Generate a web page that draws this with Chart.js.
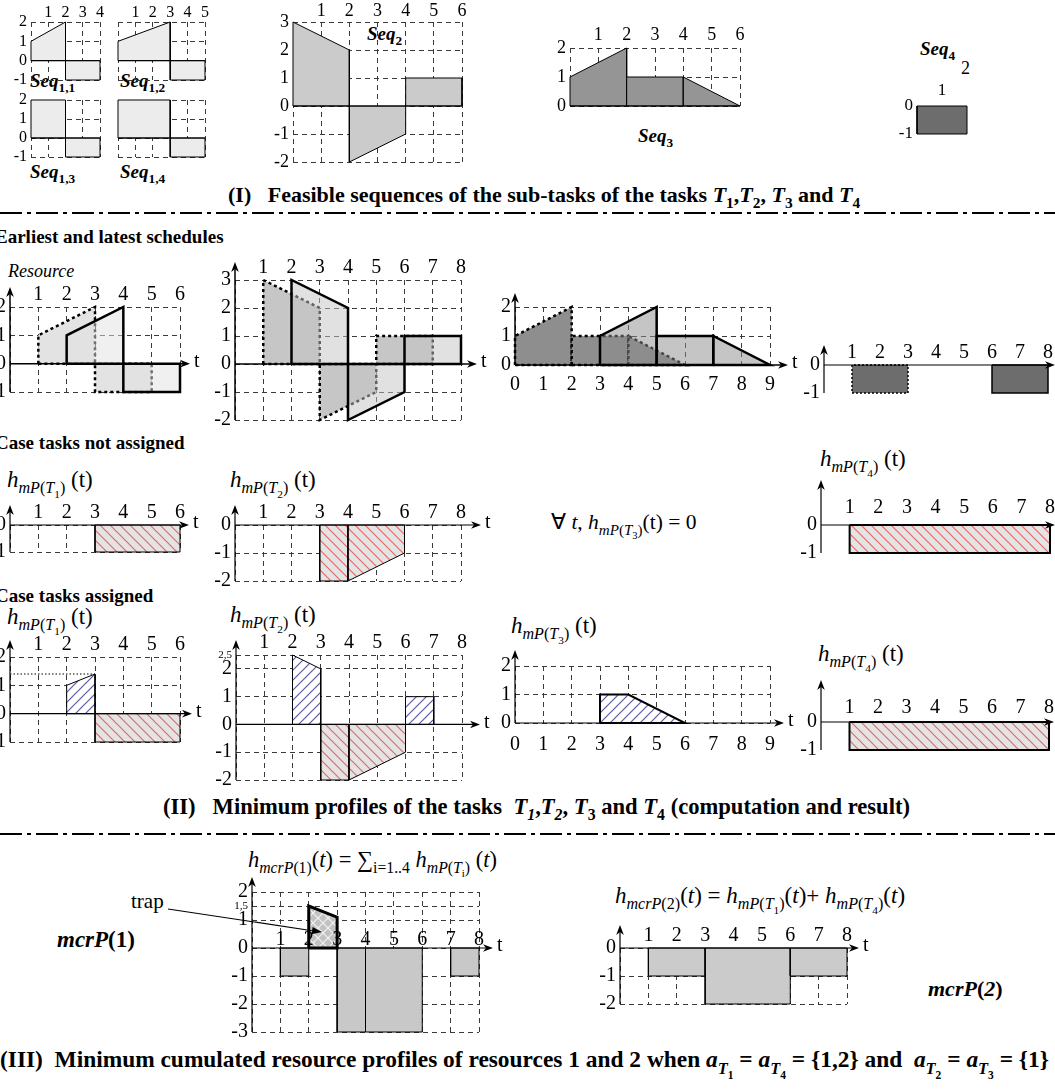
<!DOCTYPE html>
<html lang="en">
<head>
<meta charset="UTF-8">
<title>Minimum resource profiles</title>
<script src="https://cdn.jsdelivr.net/npm/chart.js"></script>
<style>
  body { margin:0; width:1055px; height:1089px; position:relative; overflow:hidden; background:#fff;
         font-family:'Liberation Serif','Times New Roman',serif; color:#000; }
  .txt { position:absolute; white-space:nowrap; line-height:1; }
  .ttl { font-weight:bold; font-size:22px; }
  .sec { font-weight:bold; font-size:19px; }
  .hl { font-size:23px; }
  .seq { font-weight:bold; font-size:19px; }
  sub { font-size:0.7em; vertical-align:-0.4em; line-height:0; }
  svg { position:absolute; left:0; top:0; }
</style>
</head>
<body>

<!-- section titles and labels -->
<div class="txt seq" style="left:30px;top:71px"><i>Seq</i><sub>1,1</sub></div>
<div class="txt seq" style="left:120px;top:71px"><i>Seq</i><sub>1,2</sub></div>
<div class="txt seq" style="left:30px;top:162px"><i>Seq</i><sub>1,3</sub></div>
<div class="txt seq" style="left:120px;top:162px"><i>Seq</i><sub>1,4</sub></div>
<div class="txt seq" style="left:367px;top:24px"><i>Seq</i><sub>2</sub></div>
<div class="txt seq" style="left:638px;top:126px"><i>Seq</i><sub>3</sub></div>
<div class="txt seq" style="left:920px;top:39px"><i>Seq</i><sub>4</sub></div>
<div class="txt" style="left:961px;top:59px;font-size:18px">2</div>
<div class="txt ttl" style="left:228px;top:184px">(I)&nbsp;&nbsp; Feasible sequences of the sub-tasks of the tasks <i>T</i><sub>1</sub>,<i>T</i><sub>2</sub>, <i>T</i><sub>3</sub> and <i>T</i><sub>4</sub></div>

<div class="txt sec" style="left:-5px;top:227px">Earliest and latest schedules</div>
<div class="txt" style="left:8px;top:262px;font-size:18px"><i>Resource</i></div>
<div class="txt sec" style="left:-5px;top:433px">Case tasks not assigned</div>
<div class="txt hl" style="left:7px;top:468px"><i>h</i><sub><i>mP</i>(<i>T</i><sub>1</sub>)</sub> (t)</div>
<div class="txt hl" style="left:230px;top:468px"><i>h</i><sub><i>mP</i>(<i>T</i><sub>2</sub>)</sub> (t)</div>
<div class="txt" style="left:551px;top:512px;font-size:21.5px">&forall; <i>t</i>, <i>h</i><sub><i>mP</i>(<i>T</i><sub>3</sub>)</sub>(t) = 0</div>
<div class="txt hl" style="left:820px;top:447px"><i>h</i><sub><i>mP</i>(<i>T</i><sub>4</sub>)</sub> (t)</div>
<div class="txt sec" style="left:-5px;top:586px">Case tasks assigned</div>
<div class="txt hl" style="left:7px;top:605px"><i>h</i><sub><i>mP</i>(<i>T</i><sub>1</sub>)</sub> (t)</div>
<div class="txt hl" style="left:230px;top:603px"><i>h</i><sub><i>mP</i>(<i>T</i><sub>2</sub>)</sub> (t)</div>
<div class="txt hl" style="left:511px;top:614px"><i>h</i><sub><i>mP</i>(<i>T</i><sub>3</sub>)</sub> (t)</div>
<div class="txt hl" style="left:818px;top:642px"><i>h</i><sub><i>mP</i>(<i>T</i><sub>4</sub>)</sub> (t)</div>
<div class="txt ttl" style="left:163px;top:796px;font-size:22.6px">(II)&nbsp;&nbsp; Minimum profiles of the tasks&nbsp; <i>T<sub>1</sub></i>,<i>T<sub>2</sub></i>, <i>T</i><sub>3</sub> and <i>T</i><sub>4</sub> (computation and result)</div>

<div class="txt" style="left:248px;top:849px;font-size:22.5px"><i>h</i><sub><i>mcrP</i>(1)</sub>(<i>t</i>) = &sum;<sub>i=1..4</sub> <i>h</i><sub><i>mP</i>(<i>T</i><sub>i</sub>)</sub> (<i>t</i>)</div>
<div class="txt" style="left:615px;top:884px;font-size:23px"><i>h</i><sub><i>mcrP</i>(2)</sub>(<i>t</i>) = <i>h</i><sub><i>mP</i>(<i>T</i><sub>1</sub>)</sub>(<i>t</i>)+ <i>h</i><sub><i>mP</i>(<i>T</i><sub>4</sub>)</sub>(<i>t</i>)</div>
<div class="txt" style="left:131px;top:891px;font-size:21px">trap</div>
<div class="txt" style="left:57px;top:928px;font-size:23px;font-weight:bold"><i>mcrP</i>(1)</div>
<div class="txt" style="left:928px;top:978px;font-size:22px;font-weight:bold"><i>mcrP</i>(<i>2</i>)</div>
<div class="txt ttl" style="left:0px;top:1048px;font-size:23.4px">(III)&nbsp; Minimum cumulated resource profiles of resources 1 and 2 when <i>a</i><sub><i>T</i><sub>1</sub></sub> = <i>a</i><sub><i>T</i><sub>4</sub></sub> = {1,2} and&nbsp; <i>a</i><sub><i>T</i><sub>2</sub></sub> = <i>a</i><sub><i>T</i><sub>3</sub></sub> = {1}</div>

<script>
// ---- ticks ----
const xt2 = [0, 1, 2];
const xt4 = [0, 1, 2, 3, 4];
const xt5 = [0, 1, 2, 3, 4, 5];
const xt6 = [0, 1, 2, 3, 4, 5, 6];
const xt8 = [0, 1, 2, 3, 4, 5, 6, 7, 8];
const xt9 = [0, 1, 2, 3, 4, 5, 6, 7, 8, 9];
const xl4 = ['', '1', '2', '3', '4'];
const xl5 = ['', '1', '2', '3', '4', '5'];
const xl6 = ['', '1', '2', '3', '4', '5', '6'];
const xl8 = ['', '1', '2', '3', '4', '5', '6', '7', '8'];
const xl9 = ['0', '1', '2', '3', '4', '5', '6', '7', '8', '9'];
const xlSeq4 = ['', '1', ''];

const yt10 = [-1, 0];
const yt20 = [-2, -1, 0];
const yt02 = [0, 1, 2];
const ytM12 = [-1, 0, 1, 2];
const ytM23 = [-2, -1, 0, 1, 2, 3];
const ytA2 = [-2, -1, 0, 1, 2, 2.5];
const ytP1 = [-3, -2, -1, 0, 1, 1.5, 2];
const yl10 = ['-1', '0'];
const yl20 = ['-2', '-1', '0'];
const yl02 = ['0', '1', '2'];
const ylM12 = ['-1', '0', '1', '2'];
const ylM23 = ['-2', '-1', '0', '1', '2', '3'];
const ylA2 = ['-2', '-1', '0', '1', '2', '2,5'];
const ylP1 = ['-3', '-2', '-1', '0', '1', '1,5', '2'];

// ---- (I) feasible sequences, vertices [t, resource] ----
const seq11 = [[[0, 0], [0, 1], [2, 2], [2, 0]], [[2, 0], [2, -1], [4, -1], [4, 0]]];
const seq12 = [[[0, 0], [0, 1], [3, 2], [3, 0]], [[3, 0], [3, -1], [5, -1], [5, 0]]];
const seq13 = [[[0, 0], [0, 2], [2, 2], [2, 0]], [[2, 0], [2, -1], [4, -1], [4, 0]]];
const seq14 = [[[0, 0], [0, 2], [3, 2], [3, 0]], [[3, 0], [3, -1], [5, -1], [5, 0]]];
const seq2 = [[[0, 0], [0, 3], [2, 2], [2, 0]], [[2, 0], [2, -2], [4, -1], [4, 0]], [[4, 0], [4, 1], [6, 1], [6, 0]]];
const seq3 = [[[0, 0], [0, 1], [2, 2], [2, 0]], [[2, 0], [2, 1], [4, 1], [4, 0]], [[4, 0], [4, 1], [6, 0]]];
const seq4 = [[[0, 0], [0, -1], [2, -1], [2, 0]]];

// ---- (II) earliest / latest schedules ----
const t1Early = [[1, 0], [1, 1], [3, 2], [3, -1], [5, -1], [5, 0]];
const t1Late = [[2, 0], [2, 1], [4, 2], [4, -1], [6, -1], [6, 0]];
const t2Early = [[1, 0], [1, 3], [3, 2], [3, -2], [5, -1], [5, 1], [7, 1], [7, 0]];
const t2Late = [[2, 0], [2, 3], [4, 2], [4, -2], [6, -1], [6, 1], [8, 1], [8, 0]];
const t3Early = [[[0, 0], [0, 1], [2, 2], [2, 0]], [[2, 0], [2, 1], [4, 1], [4, 0]], [[4, 0], [4, 1], [6, 0]]];
const t3Late = [[[3, 0], [3, 1], [5, 2], [5, 0]], [[5, 0], [5, 1], [7, 1], [7, 0]], [[7, 0], [7, 1], [9, 0]]];
const t4Early = [[1, 0], [1, -1], [3, -1], [3, 0]];
const t4Late = [[6, 0], [6, -1], [8, -1], [8, 0]];

// minimum profiles, tasks not assigned
const mpT1 = [[3, 0], [3, -1], [6, -1], [6, 0]];
const mpT2 = [[[3, 0], [3, -2], [4, -2], [4, 0]], [[4, 0], [4, -2], [6, -1], [6, 0]]];
const mpT4 = [[1, 0], [1, -1], [8, -1], [8, 0]];
// tasks assigned
const maT1Pos = [[2, 0], [2, 1], [3, 1.4], [3, 0]];
const maT2Pos = [[[2, 0], [2, 2.5], [3, 2], [3, 0]], [[6, 0], [6, 1], [7, 1], [7, 0]]];
const maT3 = [[3, 0], [3, 1], [4, 1], [6, 0]];

// ---- (III) cumulated profiles ----
const mcr1 = [[[1, 0], [1, -1], [2, -1], [2, 0]], [[3, 0], [3, -3], [4, -3], [4, 0]],
              [[4, 0], [4, -3], [6, -3], [6, 0]], [[7, 0], [7, -1], [8, -1], [8, 0]]];
const mcr1Trap = [[2, 0], [2, 1.5], [3, 1.1], [3, 0]];
const mcr2 = [[[1, 0], [1, -1], [3, -1], [3, 0]], [[3, 0], [3, -2], [6, -2], [6, 0]], [[6, 0], [6, -1], [8, -1], [8, 0]]];

const FONT = "'Liberation Serif','Times New Roman',serif";
Chart.defaults.font.family = FONT;
Chart.defaults.color = '#000';

function hatch(bg, fg, dir) {
  const n = 10, c = document.createElement('canvas');
  c.width = c.height = n;
  const g = c.getContext('2d');
  g.fillStyle = bg;
  g.fillRect(0, 0, n, n);
  g.strokeStyle = fg;
  g.lineWidth = 1.2;
  const seg = (a, b, p, q) => { g.beginPath(); g.moveTo(a, b); g.lineTo(p, q); g.stroke(); };
  if (dir >= 0) { seg(-1, n + 1, n + 1, -1); seg(-1, 1, 1, -1); seg(n - 1, n + 1, n + 1, n - 1); }
  if (dir <= 0) { seg(-1, -1, n + 1, n + 1); seg(-1, n - 1, 1, n + 1); seg(n - 1, -1, n + 1, 1); }
  return g.createPattern(c, 'repeat');
}
const RED = hatch('#e4e4e4', '#e36a6a', -1);
const BLUE = hatch('#ffffff', '#5a5aa6', 1);
const CROSS = hatch('#c2c2c2', '#f2f2f2', 0);

// fills each polygon under its outline, then axes / arrows on top
const deco = {
  id: 'deco',
  beforeDatasetDraw(chart, args) {
    const ds = chart.data.datasets[args.index];
    if (!ds.area) return;
    const ctx = chart.ctx;
    ctx.save();
    ctx.beginPath();
    args.meta.data.forEach((p, i) => i ? ctx.lineTo(p.x, p.y) : ctx.moveTo(p.x, p.y));
    ctx.closePath();
    ctx.fillStyle = ds.area;
    ctx.fill();
    ctx.restore();
  },
  afterDatasetsDraw(chart, args, o) {
    const {ctx, chartArea: a, scales: {x, y}} = chart;
    const zy = y.getPixelForValue(0), zx = x.getPixelForValue(0);
    const seg = (x1, y1, x2, y2) => { ctx.beginPath(); ctx.moveTo(x1, y1); ctx.lineTo(x2, y2); ctx.stroke(); };
    const head = (px, py, ang) => {
      ctx.save();
      ctx.translate(px, py);
      ctx.rotate(ang);
      ctx.beginPath();
      ctx.moveTo(0, 0); ctx.lineTo(-10, -3.8); ctx.lineTo(-7, 0); ctx.lineTo(-10, 3.8);
      ctx.closePath();
      ctx.fill();
      ctx.restore();
    };
    ctx.save();
    ctx.strokeStyle = '#000';
    ctx.fillStyle = '#000';
    (o.dots || []).forEach(([v, x1, x2]) => {
      ctx.lineWidth = 1;
      ctx.setLineDash([1.5, 2]);
      const py = y.getPixelForValue(v);
      seg(x.getPixelForValue(x1), py, x.getPixelForValue(x2), py);
    });
    ctx.setLineDash([]);
    if (o.zero) {
      ctx.lineWidth = o.lw || 1;
      const end = a.right + (o.ax || 0);
      seg(a.left, zy, end - (o.ax ? 5 : 0), zy);
      if (o.ax) head(end, zy, 0);
      if (o.t) {
        ctx.font = '20px ' + FONT;
        ctx.textAlign = 'left';
        ctx.textBaseline = 'middle';
        ctx.fillText('t', end + 4, zy - 2);
      }
    }
    if (o.up) {
      ctx.lineWidth = o.lw || 1;
      seg(zx, a.bottom, zx, a.top - o.up + 5);
      head(zx, a.top - o.up, -Math.PI / 2);
    }
    if (o.inner) {
      ctx.font = '20px ' + FONT;
      ctx.textAlign = 'center';
      ctx.textBaseline = 'bottom';
      o.inner[0].forEach((v, i) => ctx.fillText(o.inner[1][i], x.getPixelForValue(v), zy + 2));
    }
    ctx.restore();
  }
};

const ML = 44, MT = 54, MR = 40, MB = 42, YW = 28;
const GRID = '#3a3a3a';

function shape(pts, fill, opt = {}) {
  return {pts, fill, ...opt};
}

function mini(s) {
  const [l, t, r, b] = s.box;
  const w = r - l + ML + MR, h = b - t + MT + MB;
  const cv = document.createElement('canvas');
  cv.width = w;
  cv.height = h;
  cv.style.cssText = `position:absolute;left:${l - ML}px;top:${t - MT}px;width:${w}px;height:${h}px`;
  document.body.appendChild(cv);
  const top = s.xPos !== 'bottom';
  const fs = s.fs || 20;
  const pad = s.xpad || 0;
  const XH = pad + Math.ceil(fs * 1.2) + 2;
  const datasets = s.shapes.map((sh, i) => ({
    data: sh.pts.concat([sh.pts[0]]).map(([px, py]) => ({x: px, y: py})),
    showLine: true, pointRadius: 0, tension: 0, clip: false, order: -i,
    borderColor: '#000', borderWidth: sh.w || 1, borderDash: sh.dash || [],
    area: sh.fill
  }));
  new Chart(cv, {
    type: 'scatter',
    data: {datasets},
    options: {
      responsive: false, animation: false, events: [],
      layout: {padding: {left: ML - YW, top: top ? MT - XH : MT, right: MR, bottom: top ? MB : MB - XH}},
      plugins: {legend: {display: false}, tooltip: {enabled: false}, deco: s.deco || {}},
      scales: {
        x: {
          type: 'linear', position: top ? 'top' : 'bottom',
          min: s.xt[0], max: s.xt[s.xt.length - 1],
          afterBuildTicks: sc => { sc.ticks = s.xt.map(v => ({value: v})); },
          afterFit: sc => { sc.height = XH; },
          ticks: {callback: (v, i) => s.xl ? s.xl[i] : '', font: {size: fs}, padding: pad, maxRotation: 0, autoSkip: false},
          grid: {display: s.gridX !== false, color: s.gridXColor || GRID, lineWidth: 1, drawTicks: false},
          border: {display: false, dash: s.gridDash || [5, 4]}
        },
        y: {
          type: 'linear', position: 'left',
          min: s.yt[0], max: s.yt[s.yt.length - 1],
          afterBuildTicks: sc => { sc.ticks = s.yt.map(v => ({value: v})); },
          afterFit: sc => { sc.width = YW; },
          ticks: {
            callback: (v, i) => s.yl ? s.yl[i] : '',
            font: c => ({size: (s.yl && c.index !== undefined && String(s.yl[c.index]).includes(',')) ? 11 : fs}),
            padding: 4, autoSkip: false
          },
          grid: {display: s.gridY !== false, color: GRID, lineWidth: 1, drawTicks: false},
          border: {display: false, dash: [5, 4]}
        }
      }
    },
    plugins: [deco]
  });
}

const thin = {zero: true, lw: 1};
const seqs = (arr, col) => arr.map(p => shape(p, col));

// (I)
mini({box: [31, 22, 100, 80], xt: xt4, xl: xl4, yt: ytM12, yl: ylM12, fs: 16, shapes: seqs(seq11, '#ececec'), deco: thin});
mini({box: [118, 22, 205, 80], xt: xt5, xl: xl5, yt: ytM12, fs: 16, shapes: seqs(seq12, '#ececec'), deco: thin});
mini({box: [31, 100, 100, 157], xt: xt4, yt: ytM12, yl: ylM12, fs: 16, shapes: seqs(seq13, '#ececec'), deco: thin});
mini({box: [118, 100, 205, 157], xt: xt5, yt: ytM12, fs: 16, shapes: seqs(seq14, '#ececec'), deco: thin});
mini({box: [293, 22, 462, 162], xt: xt6, xl: xl6, yt: ytM23, yl: ylM23, fs: 18, shapes: seqs(seq2, '#cbcbcb'), deco: thin});
mini({box: [570, 48, 740, 106], xt: xt6, xl: xl6, xpad: 2, yt: yt02, yl: yl02, fs: 18, shapes: seqs(seq3, '#959595'), deco: thin});
mini({box: [917, 106, 967, 134], xt: xt2, xl: xlSeq4, yt: yt10, yl: yl10, fs: 17, xpad: 5, gridY: false,
      gridDash: [2, 2], gridXColor: c => c.tick && c.tick.value === 1 ? '#000' : 'rgba(0,0,0,0)',
      shapes: seqs(seq4, '#6d6d6d')});

// (II) earliest (dashed) and latest (solid) schedules
const early = {w: 2.5, dash: [3, 3]}, late = {w: 2.5};
const axE = (ax, up) => ({zero: true, lw: 1.5, ax, t: true, up});
mini({box: [10, 307, 180, 392], xt: xt6, xl: xl6, yt: ytM12, yl: ylM12,
      shapes: [shape(t1Early, '#e3e3e3', early), shape(t1Late, 'rgba(225,225,225,0.5)', late)], deco: axE(10, 20)});
mini({box: [235, 280, 461, 420], xt: xt8, xl: xl8, yt: ytM23, yl: ylM23,
      shapes: [shape(t2Early, '#c6c6c6', early), shape(t2Late, 'rgba(195,195,195,0.5)', late)], deco: axE(16, 18)});
mini({box: [515, 307, 770, 365], xt: xt9, xl: xl9, xPos: 'bottom', xpad: 8, yt: yt02, yl: yl02,
      shapes: [...t3Early.map(p => shape(p, '#8e8e8e', early)), ...t3Late.map(p => shape(p, 'rgba(140,140,140,0.5)', late))],
      deco: axE(18, 14)});
mini({box: [824, 365, 1048, 393], xt: xt8, xl: xl8, yt: yt10, yl: yl10, gridX: false, gridY: false,
      shapes: [shape(t4Early, '#6d6d6d', {w: 1.5, dash: [2, 2]}), shape(t4Late, '#6d6d6d', {w: 1.5})],
      deco: {zero: true, lw: 1.2, ax: 7, up: 20}});

// minimum profiles, tasks not assigned
const axN = (ax, up, t = true) => ({zero: true, lw: 1.2, ax, t, up});
mini({box: [10, 525, 180, 552], xt: xt6, xl: xl6, yt: yt10, yl: yl10,
      shapes: [shape(mpT1, RED)], deco: axN(9, 20)});
mini({box: [235, 525, 461, 581], xt: xt8, xl: xl8, yt: yt20, yl: yl20,
      shapes: mpT2.map(p => shape(p, RED)), deco: axN(20, 20)});
mini({box: [821, 525, 1050, 553], xt: xt8, xl: xl8, xpad: 5, yt: yt10, yl: yl10, gridX: false, gridY: false,
      shapes: [shape(mpT4, RED, {w: 2})], deco: axN(5, 45, false)});

// tasks assigned
mini({box: [10, 657, 180, 742], xt: xt6, xl: xl6, yt: ytM12, yl: ylM12,
      shapes: [shape(maT1Pos, BLUE), shape(mpT1, RED)], deco: {...axN(12, 17), dots: [[1.4, 0, 3]]}});
mini({box: [236, 655, 462, 780], xt: xt8, xl: xl8, yt: ytA2, yl: ylA2,
      shapes: [...maT2Pos.map(p => shape(p, BLUE)), ...mpT2.map(p => shape(p, RED))], deco: axN(18, 15)});
mini({box: [515, 666, 770, 723], xt: xt9, xl: xl9, xPos: 'bottom', xpad: 10, yt: yt02, yl: yl02,
      shapes: [shape(maT3, BLUE, {w: 2})], deco: axN(14, 16)});
mini({box: [821, 722, 1049, 750], xt: xt8, xl: xl8, xpad: 2, yt: yt10, yl: yl10, gridX: false, gridY: false,
      shapes: [shape(mpT4, RED, {w: 2})], deco: axN(5, 42, false)});

// (III) cumulated profiles
mini({box: [252, 892, 479, 1032], xt: xt8, yt: ytP1, yl: ylP1,
      shapes: [...mcr1.map(p => shape(p, '#c8c8c8')), shape(mcr1Trap, CROSS, {w: 3})],
      deco: {...axN(14, 15), inner: [xt8.slice(1), xl8.slice(1)]}});
mini({box: [620, 948, 847, 1004], xt: xt8, xl: xl8, yt: yt20, yl: yl20,
      shapes: mcr2.map(p => shape(p, '#cbcbcb')), deco: axN(12, 23)});
</script>

<svg width="1055" height="1089">
  <line x1="0" y1="213" x2="1055" y2="213" stroke="#000" stroke-width="2" stroke-dasharray="22 5 4 5"/>
  <line x1="0" y1="834" x2="1055" y2="834" stroke="#000" stroke-width="2" stroke-dasharray="22 5 4 5"/>
  <line x1="168" y1="909" x2="314" y2="931" stroke="#000" stroke-width="1.2"/>
  <polygon points="322,932 311.6,934.2 312.6,927.0" fill="#000"/>
</svg>
</body>
</html>
